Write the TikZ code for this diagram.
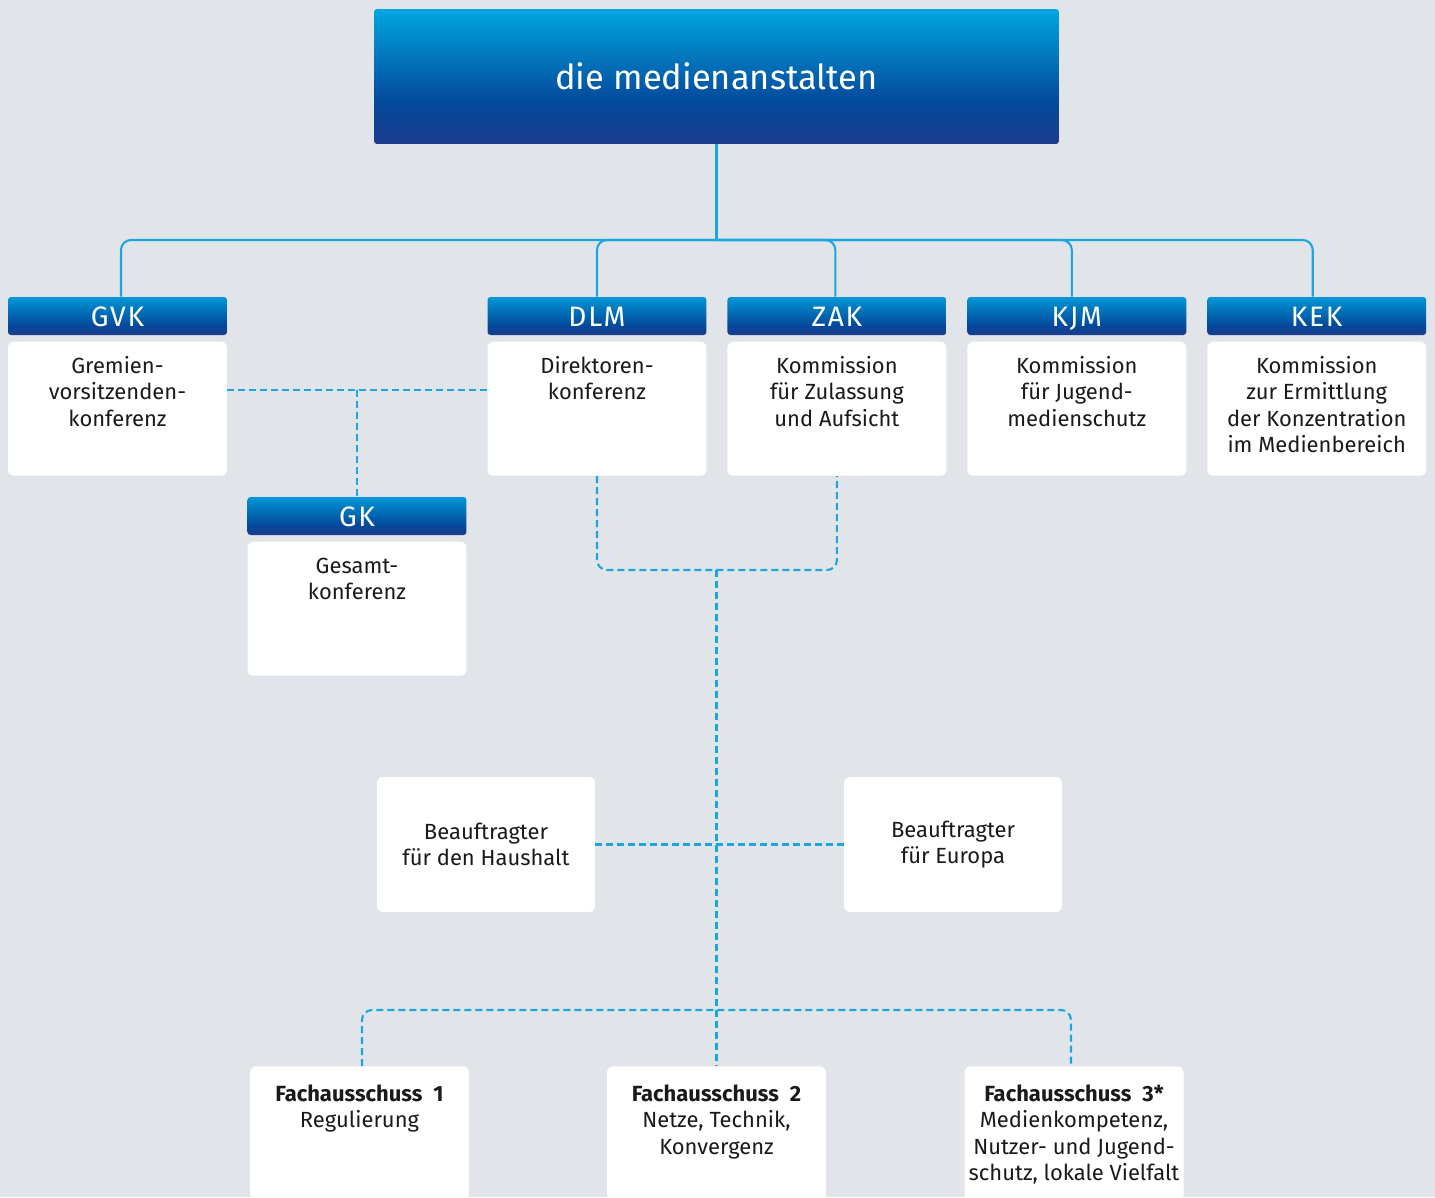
\documentclass[tikz,border=0pt]{standalone}
\usepackage{fontspec}
\setmainfont{Fira Sans}
\setsansfont{Fira Sans}
\usetikzlibrary{positioning, calc}

\definecolor{mabg}{HTML}{E1E5E9}
\definecolor{maline}{HTML}{1AA7E1}
\definecolor{matop}{HTML}{00A6E1}
\definecolor{maheadtop}{HTML}{0097D6}
\definecolor{mamid}{HTML}{04489A}
\definecolor{mabottom}{HTML}{1C3B8C}
\definecolor{matext}{HTML}{1A1A1A}

\pgfdeclareverticalshading{mabar}{100bp}{color(0bp)=(mabottom); color(25bp)=(mabottom); color(40bp)=(mamid); color(75bp)=(matop); color(100bp)=(matop)}
\pgfdeclareverticalshading{mahead}{100bp}{color(0bp)=(mabottom); color(25bp)=(mabottom); color(37bp)=(mamid); color(75bp)=(maheadtop); color(100bp)=(maheadtop)}

% text that starts at the top of a white box
\newcommand\toptext[2][18pt]{\parbox[c][2.68cm][t]{4.3cm}{\centering\rule{0pt}{#1}#2}}

\tikzset{
    % title bar
    titlebox/.style={
        rectangle,
        rounded corners=0.06cm,
        shading=mabar,
        text=white,
        font=\fontsize{19.6pt}{24pt}\selectfont,
        minimum width=13.7cm,
        minimum height=2.7cm
    },
    % blue head of a commission
    headbox/.style={
        rectangle,
        rounded corners=0.06cm,
        shading=mahead,
        text=white,
        font=\fontsize{16pt}{18pt}\selectfont\addfontfeature{LetterSpace=6},
        text height=11.5pt,
        text depth=0pt,
        minimum width=4.38cm,
        minimum height=0.76cm,
        inner sep=0pt
    },
    % white box under a head
    bodybox/.style={
        rectangle,
        rounded corners=0.12cm,
        fill=white,
        text=matext,
        font=\fontsize{12.5pt}{15pt}\selectfont,
        minimum width=4.38cm,
        minimum height=2.68cm,
        inner sep=0pt
    },
    % white box, text in the middle
    plainbox/.style={
        bodybox,
        align=center,
        minimum height=2.7cm,
        minimum width=4.36cm
    },
    % solid tree line
    treeline/.style={
        draw=maline,
        line width=1.2pt
    },
    % dashed link
    linkline/.style={
        draw=maline,
        line width=1.2pt,
        dash pattern=on 0.14cm off 0.08cm
    }
}

\begin{document}
\begin{tikzpicture}[x=0.02cm, y=-0.02cm, node distance=0.12cm]
    \useasboundingbox[fill=mabg] (0,0) rectangle (1435,1197);

    \node[titlebox] (ma) at (716.5,76.5) {die medienanstalten};

    % commissions
    \node[headbox] (gvk) at (117.5,316) {GVK};
    \node[headbox] (dlm) at (597,316) {DLM};
    \node[headbox, right=0.405cm of dlm] (zak) {ZAK};
    \node[headbox, right=0.405cm of zak] (kjm) {KJM};
    \node[headbox, right=0.405cm of kjm] (kek) {KEK};

    \node[bodybox, below=of gvk] (gvk-b) {\toptext{Gremien-\\vorsitzenden-\\konferenz}};
    \node[bodybox, below=of dlm] (dlm-b) {\toptext{Direktoren-\\konferenz}};
    \node[bodybox, below=of zak] (zak-b) {\toptext{Kommission\\für Zulassung\\und Aufsicht}};
    \node[bodybox, below=of kjm] (kjm-b) {\toptext{Kommission\\für Jugend-\\medienschutz}};
    \node[bodybox, below=of kek] (kek-b) {\toptext{Kommission\\zur Ermittlung\\der Konzentration\\im Medienbereich}};

    \node[headbox] (gk) at (357,516) {GK};
    \node[bodybox, below=of gk] (gk-b) {\toptext{Gesamt-\\konferenz}};

    % Beauftragte
    \node[plainbox] (haushalt) at (486,844.5) {Beauftragter\\für den Haushalt};
    \node[plainbox] (europa) at (953,844.5) {Beauftragter\\für Europa};

    % Fachausschüsse
    \node[bodybox, anchor=north] (fa1) at (359.5,1066) {\toptext[20pt]{\textbf{Fachausschuss\enspace 1}\\Regulierung}};
    \node[bodybox, anchor=north] (fa2) at (716.5,1066) {\toptext[20pt]{\textbf{Fachausschuss\enspace 2}\\Netze, Technik,\\Konvergenz}};
    \node[bodybox, anchor=north] (fa3) at (1074,1066) {\toptext[20pt]{\textbf{Fachausschuss\enspace 3*}\\Medienkompetenz,\\Nutzer- und Jugend-\\schutz, lokale Vielfalt}};

    % solid tree
    \coordinate (bus) at (716.5,240);
    \draw[treeline] (ma.south) -- (bus);
    \foreach \c/\dx in {gvk/0.07,dlm/0,zak/-0.03,kjm/-0.1,kek/-0.08}
        \draw[treeline, rounded corners=0.2cm] (bus) -| ([xshift=\dx cm]\c.north);

    % dashed links
    \coordinate (gklink) at (357,390);
    \draw[linkline] (gvk-b.east |- gklink) -- (dlm-b.west |- gklink);
    \draw[linkline] (gklink) -- (gk.north);

    \coordinate (hub) at (716.5,570);
    \draw[linkline, rounded corners=0.2cm] (dlm-b.south) |- (hub) -| (zak-b.south);
    \draw[linkline] (hub) -- (fa2.north);
    \draw[linkline] (haushalt.east) -- (europa.west);

    \coordinate (fork) at (716.5,1010);
    \draw[linkline, rounded corners=0.2cm] ([xshift=0.05cm]fa1.north) |- (fork) -| ([xshift=-0.06cm]fa3.north);
\end{tikzpicture}
\end{document}
